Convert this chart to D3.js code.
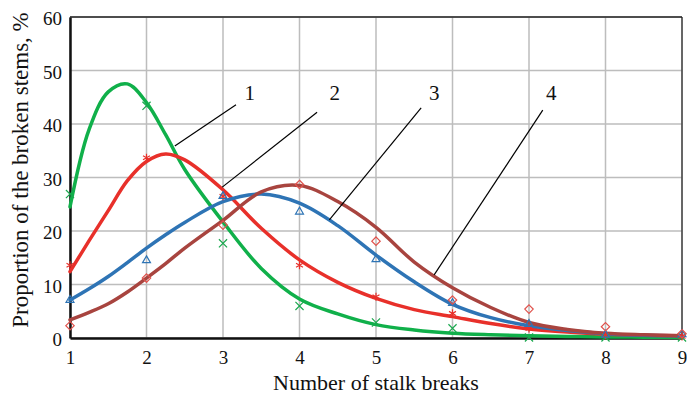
<!DOCTYPE html>
<html>
<head>
<meta charset="utf-8">
<script src="https://cdn.jsdelivr.net/npm/d3@7/dist/d3.min.js"></script>
<style>
  html, body { margin: 0; padding: 0; background: #fff; }
  svg { display: block; }
  svg text { font-family: "Liberation Serif", "Times New Roman", serif !important; fill: #111; }
</style>
</head>
<body>
<svg id="chart" width="687" height="395"></svg>
<script>
// Measured points: number of stalk breaks vs. share of broken stems, %
const breaks = [1, 2, 3, 4, 5, 6, 7, 8, 9];
const measured1 = [26.9, 43.4, 17.7, 6.0, 2.9, 1.8, 0.1, 0.1, 0.1];
const measured2 = [13.6, 33.7, 26.5, 13.6, 7.7, 4.6, 1.8, 0.5, 0.3];
const measured3 = [7.1, 14.5, 26.5, 23.6, 14.7, 6.5, 2.6, 0.6, 0.7];
const measured4 = [2.3, 11.2, 21.1, 28.7, 18.1, 7.1, 5.4, 2.1, 0.8];

// Fitted distribution curves, sampled along the x axis
const fitX  = [1, 1.25, 1.5, 1.75, 2, 2.25, 2.5, 3, 3.5, 4, 4.5, 5, 5.5, 6, 6.5, 7, 7.5, 8, 8.5, 9];
const fit1  = [24.5, 39.0, 46.0, 47.5, 44.0, 38.0, 31.5, 21.7, 13.0, 7.3, 4.5, 2.5, 1.5, 0.9, 0.6, 0.4, 0.3, 0.2, 0.15, 0.1];
const fit2  = [12.4, 18.2, 23.8, 29.4, 33.0, 34.4, 33.3, 27.7, 20.5, 14.6, 10.4, 7.4, 5.3, 4.0, 2.7, 1.7, 1.1, 0.7, 0.5, 0.4];
const fit3  = [7.1, 9.2, 11.5, 14.1, 16.8, 19.3, 21.6, 25.5, 26.9, 25.2, 21.0, 15.5, 10.5, 6.3, 3.8, 2.3, 1.4, 0.8, 0.5, 0.4];
const fit4  = [3.4, 4.8, 6.4, 8.6, 11.2, 13.9, 16.8, 22.0, 27.3, 28.5, 25.5, 20.7, 14.2, 9.4, 5.7, 2.9, 1.6, 0.9, 0.6, 0.4];

const xTicks = [1, 2, 3, 4, 5, 6, 7, 8, 9];
const yTicks = [0, 10, 20, 30, 40, 50, 60];

// Curve number labels and their leader lines (data units)
const curveLabels = ["1", "2", "3", "4"];
const labelX = [3.35, 4.46, 5.76, 7.29];
const labelY = 45.8;
const leaderFrom = [[3.17, 43.6], [4.23, 42.2], [5.59, 43.0], [7.18, 42.6]];
const leaderTo   = [[2.37, 35.9], [2.99, 28.2], [4.39, 22.1], [5.76, 11.8]];

const series = [
  { fit: fit1, pts: measured1, line: "#10b04a", mark: "#1aa84e", sym: d3.symbolTimes },
  { fit: fit2, pts: measured2, line: "#e8302a", mark: "#e8302a", sym: d3.symbolAsterisk },
  { fit: fit3, pts: measured3, line: "#2e74b5", mark: "#2e74b5", sym: d3.symbolTriangle2 },
  { fit: fit4, pts: measured4, line: "#a8443f", mark: "#e0524c", sym: d3.symbolDiamond2 }
];

const svg = d3.select("#chart");
const x = d3.scaleLinear().domain([1, 9]).range([70, 682]);
const y = d3.scaleLinear().domain([0, 60]).range([338, 17]);

// grid
const grid = svg.append("g");
grid.selectAll("line.v").data(xTicks).join("line")
  .attr("x1", d => x(d)).attr("x2", d => x(d))
  .attr("y1", y(0)).attr("y2", y(60))
  .attr("stroke", "#bdbdbd").attr("stroke-width", 1.5);
grid.selectAll("line.h").data(yTicks).join("line")
  .attr("x1", x(1)).attr("x2", x(9))
  .attr("y1", d => y(d)).attr("y2", d => y(d))
  .attr("stroke", "#bdbdbd").attr("stroke-width", 1.5);

// frame
svg.append("line").attr("x1", x(9)).attr("x2", x(9)).attr("y1", y(0)).attr("y2", y(60))
  .attr("stroke", "#000").attr("stroke-width", 1);
svg.append("line").attr("x1", x(1)).attr("x2", x(9)).attr("y1", y(60)).attr("y2", y(60))
  .attr("stroke", "#222").attr("stroke-width", 1.5);

// axes
const xAxis = svg.append("g").attr("transform", `translate(0,${y(0)})`)
  .call(d3.axisBottom(x).tickValues(xTicks).tickSize(0).tickPadding(11).tickFormat(d3.format("d")));
const yAxis = svg.append("g").attr("transform", `translate(${x(1)},0)`)
  .call(d3.axisLeft(y).tickValues(yTicks).tickSize(0).tickPadding(8).tickFormat(d3.format("d")));
[xAxis, yAxis].forEach(g => {
  g.attr("font-family", null).attr("font-size", null);
  g.select(".domain").attr("stroke", "#111").attr("stroke-width", 2.5);
  g.selectAll("text").style("font-family", "'Liberation Serif', serif")
    .style("font-size", "19px").attr("fill", "#111");
});
xAxis.selectAll("text").attr("dy", "0.8em");
yAxis.selectAll("text").attr("dy", "0.4em");

// fitted curves
const line = d3.line().curve(d3.curveCatmullRom.alpha(0.5))
  .x((d, i) => x(fitX[i])).y(d => y(d));
series.forEach(s => {
  svg.append("path").datum(s.fit).attr("d", line)
    .attr("fill", "none").attr("stroke", s.line).attr("stroke-width", 3.5)
    .attr("stroke-linecap", "round");
});

// measured markers
series.forEach(s => {
  const sym = d3.symbol().type(s.sym).size(45);
  svg.append("g").selectAll("path").data(s.pts).join("path")
    .attr("d", sym)
    .attr("transform", (d, i) => `translate(${x(breaks[i])},${y(d)})`)
    .attr("fill", "none").attr("stroke", s.mark).attr("stroke-width", 1.2);
});

// leader lines and curve numbers
svg.append("g").selectAll("line").data(curveLabels).join("line")
  .attr("x1", (d, i) => x(leaderFrom[i][0])).attr("y1", (d, i) => y(leaderFrom[i][1]))
  .attr("x2", (d, i) => x(leaderTo[i][0])).attr("y2", (d, i) => y(leaderTo[i][1]))
  .attr("stroke", "#000").attr("stroke-width", 1.2);
svg.append("g").selectAll("text").data(curveLabels).join("text")
  .attr("x", (d, i) => x(labelX[i])).attr("y", y(labelY))
  .attr("dy", "0.35em").attr("text-anchor", "middle")
  .style("font-size", "21px").text(d => d);

// axis titles
svg.append("text").attr("x", 376).attr("y", 390).attr("text-anchor", "middle")
  .style("font-size", "22px").text("Number of stalk breaks");
svg.append("text").attr("transform", "translate(28,170) rotate(-90)")
  .attr("text-anchor", "middle").style("font-size", "23px")
  .text("Proportion of the broken stems, %");
</script>
</body>
</html>
